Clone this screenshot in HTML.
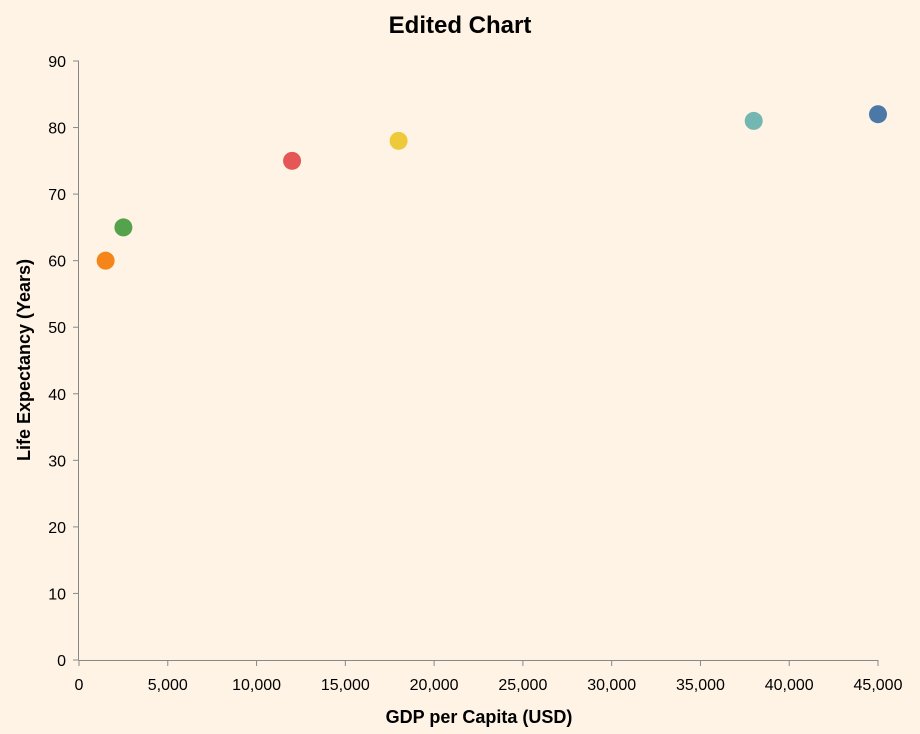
<!DOCTYPE html>
<html><head><meta charset="utf-8"><style>
html,body{margin:0;padding:0;background:#fef3e4;}
svg{display:block;font-family:"Liberation Sans",Arial,sans-serif;}
</style></head><body>
<svg id="chart" width="920" height="734">
<rect width="920" height="734" fill="#fef3e4"></rect>
<text x="460" y="33" text-anchor="middle" font-size="24" font-weight="bold" fill="#000">Edited Chart</text>
<g id="axes"></g>
<g id="points"></g>
<text x="479" y="723" text-anchor="middle" font-size="18" font-weight="bold" fill="#000">GDP per Capita (USD)</text>
<text transform="translate(30,360) rotate(-90)" text-anchor="middle" font-size="18" font-weight="bold" fill="#000">Life Expectancy (Years)</text>
</svg>
<script>
const gdp = [45000, 1500, 12000, 38000, 2500, 18000];
const life = [82, 60, 75, 81, 65, 78];
const colors = ["#4c78a8", "#f58518", "#e45756", "#72b7b2", "#54a24b", "#eeca3b"];
const xTicks = [0,5000,10000,15000,20000,25000,30000,35000,40000,45000];
const yTicks = [0,10,20,30,40,50,60,70,80,90];
const NS="http://www.w3.org/2000/svg";
const x0=79,x1=878,y0=660,y1=61;
const xs=v=>x0+(v/45000)*(x1-x0);
const ys=v=>y0-(v/90)*(y0-y1);
const axes=document.getElementById('axes');
function mk(t,a,p){const e=document.createElementNS(NS,t);for(const k in a)e.setAttribute(k,a[k]);p.appendChild(e);return e;}
const xl=mk('line',{x1:x0,x2:x1,y1:y0+0.5,y2:y0+0.5,stroke:'#888'},axes);


const yl=mk('line',{x1:x0-0.5,x2:x0-0.5,y1:y1,y2:y0,stroke:'#888'},axes);


xTicks.forEach(v=>{
 const x=xs(v);
 const tk=mk('line',{x1:x,x2:x,y1:y0,y2:y0+6,stroke:'#888'},axes);
 
 
 const t=mk('text',{x:x,y:y0+30,'text-anchor':'middle','font-size':16,fill:'#000'},axes);
 t.textContent=v.toLocaleString('en-US');
 
 
});
yTicks.forEach(v=>{
 const y=ys(v);
 const tk=mk('line',{x1:x0-6,x2:x0,y1:y,y2:y,stroke:'#888'},axes);
 
 
 const t=mk('text',{x:x0-13,y:y+6,'text-anchor':'end','font-size':16,fill:'#000'},axes);
 t.textContent=v;
 
 
});
const pts=document.getElementById('points');
gdp.forEach((g,i)=>{
 const c=mk('circle',{cx:xs(g),cy:ys(life[i]),r:9,fill:colors[i]},pts);
 
 
});
</script>
</body></html>
